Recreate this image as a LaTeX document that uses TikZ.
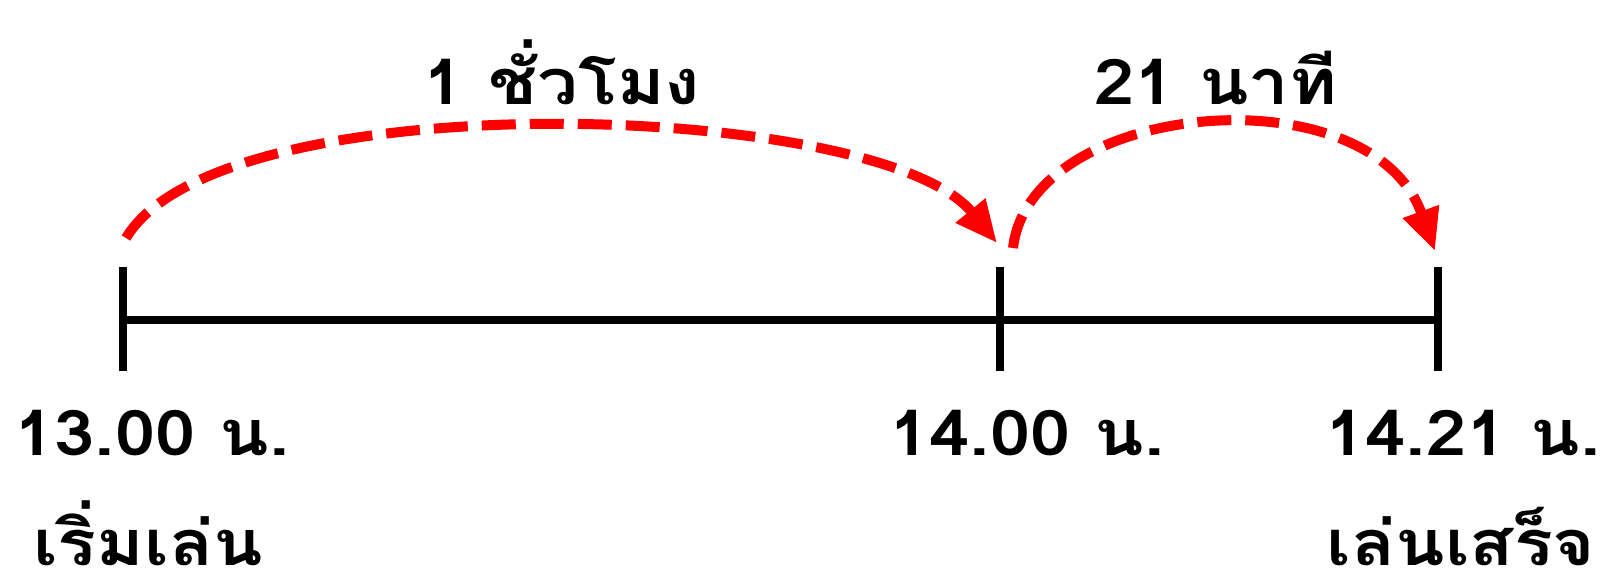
\documentclass[tikz,border=0pt]{standalone}
\usepackage{fontspec}
\setmainfont[Script=Thai,FakeStretch=1.15]{Loma}
\usetikzlibrary{arrows.meta}
\tikzset{
  axis/.style={line width=8pt, black},
  tick/.style={line width=8pt, black},
  jump/.style={line width=10pt, red, dash pattern=on 34pt off 14pt,
    -{Triangle[length=42pt,width=36pt]}},
  lbl/.style={font=\fontsize{63}{70}\selectfont\bfseries, anchor=base, inner sep=0pt},
}
\begin{document}
\begin{tikzpicture}[x=1pt,y=-1pt]
\useasboundingbox (0,0) rectangle (1606,580);
% ticks
\coordinate (t1a) at (123,267); \coordinate (t1b) at (123,371);
\coordinate (t2a) at (1000,267); \coordinate (t2b) at (1000,371);
\coordinate (t3a) at (1438,267); \coordinate (t3b) at (1438,371);
\coordinate (l1) at (123,320); \coordinate (l3) at (1438,320);
\draw[axis] (l1) -- (l3);
\draw[tick] (t1a) -- (t1b);
\draw[tick] (t2a) -- (t2b);
\draw[tick] (t3a) -- (t3b);
% arrows
\coordinate (a1s) at (126,238); \coordinate (a1e) at (997,243);
\coordinate (a2s) at (1013,248); \coordinate (a2e) at (1435,251);
\draw[jump] (a1s) .. controls (220,80) and (880,100) .. (a1e);
\draw[jump] (a2s) .. controls (1030,100) and (1370,70) .. (a2e);
% labels
\node[lbl] (top1) at (562,105) {1 ชั่วโมง};
\node[lbl] (top2) at (1216,105) {21 นาที};
\node[lbl] (b1) at (152,455) {13.00 น.};
\node[lbl] (b2) at (1027,455) {14.00 น.};
\node[lbl] (b3) at (1463,455) {14.21 น.};
\node[lbl, text depth=0pt] (c1) at (148,565) {เริ่มเล่น};
\node[lbl, text depth=0pt] (c3) at (1461,565) {เล่นเสร็จ};
\end{tikzpicture}
\end{document}
